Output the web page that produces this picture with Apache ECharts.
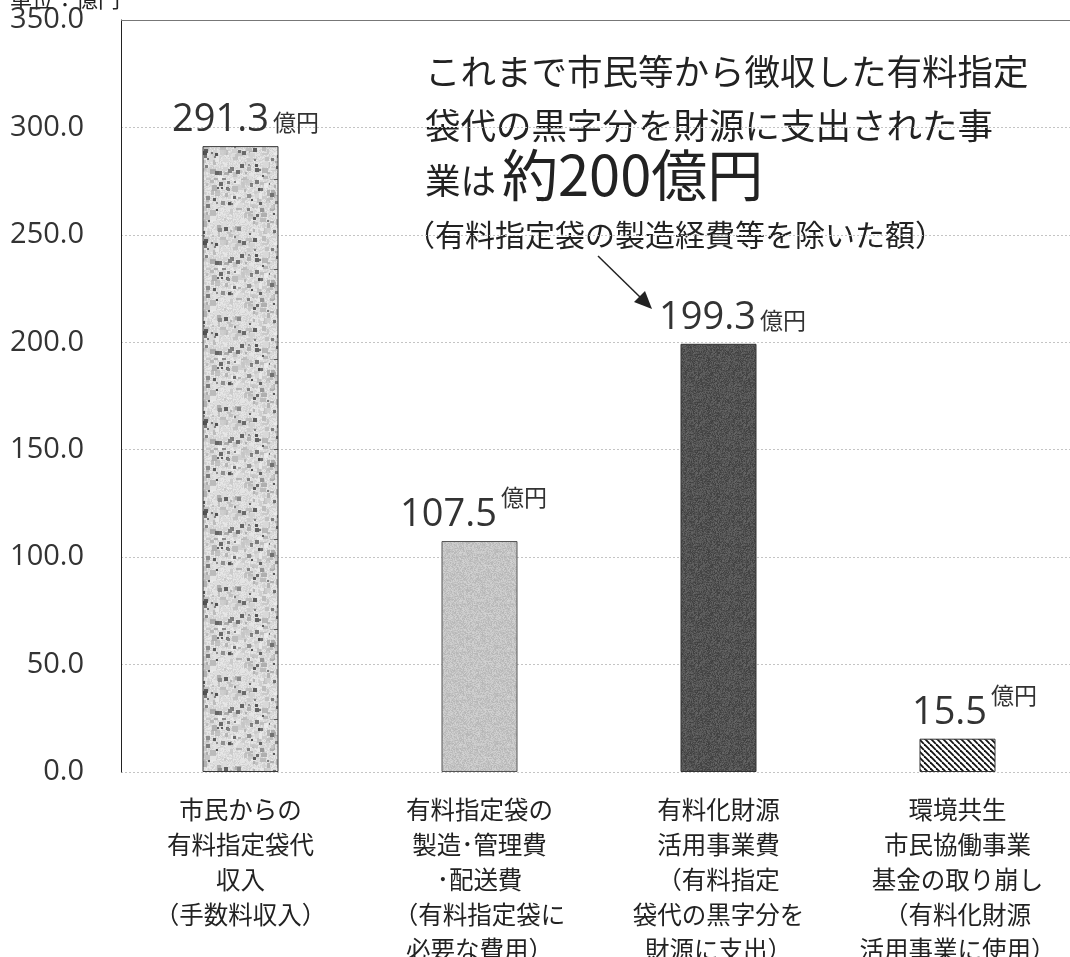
<!DOCTYPE html>
<html>
<head>
<meta charset="utf-8">
<script src="https://cdn.jsdelivr.net/npm/echarts@6/dist/echarts.min.js"></script>
<style>
  html, body { margin: 0; padding: 0; background: #fff; overflow: hidden; }
  #chart { width: 1070px; height: 957px; }
</style>
</head>
<body>
<div id="chart"></div>
<script>
// 有料指定袋代の収支（単位：億円）
const categories = [
  '市民からの\n有料指定袋代\n収入\n（手数料収入）',
  '有料指定袋の\n製造･管理費\n･配送費\n（有料指定袋に\n必要な費用）',
  '有料化財源\n活用事業費\n（有料指定\n袋代の黒字分を\n財源に支出）',
  '環境共生\n市民協働事業\n基金の取り崩し\n（有料化財源\n活用事業に使用）'
];
const values = [291.3, 107.5, 199.3, 15.5];
const unitText = '単位：億円';
const yTicks = { min: 0, max: 350, interval: 50 };
const noteLines = [
  'これまで市民等から徴収した有料指定',
  '袋代の黒字分を財源に支出された事'
];
const noteLead = '業は';
const noteAmount = '約200億円';
const noteSub = '（有料指定袋の製造経費等を除いた額）';

const FONT = '"Noto Sans CJK JP", "Noto Sans", sans-serif';
const NUM_FONT = '"Open Sans", "Noto Sans", sans-serif';

// small deterministic hash used for the bar fill textures
function hash(i, j, s) {
  const x = Math.sin(i * 12.9898 + j * 78.233 + s * 37.719) * 43758.5453;
  return x - Math.floor(x);
}

// mottled grey texture (granite-like): soft blotches with dark specks
function mottledTexture() {
  const n = 90;
  const c = document.createElement('canvas');
  c.width = n; c.height = n;
  const g = c.getContext('2d');
  for (let i = 0; i < n; i++) {
    for (let j = 0; j < n; j++) {
      const v = 205 + Math.floor(hash(i, j, 9) * 30);
      g.fillStyle = `rgb(${v},${v},${v})`;
      g.fillRect(i, j, 1, 1);
    }
  }
  for (let k = 0; k < 260; k++) {
    const x = Math.floor(hash(k, 1, 5) * n);
    const y = Math.floor(hash(k, 2, 5) * n);
    const w = 2 + Math.floor(hash(k, 3, 5) * 5);
    const h = 2 + Math.floor(hash(k, 9, 5) * 5);
    const v = 165 + Math.floor(hash(k, 4, 5) * 75);
    g.fillStyle = `rgba(${v},${v},${v},0.85)`;
    g.fillRect(x, y, w, h);
  }
  for (let k = 0; k < 80; k++) {
    const x = Math.floor(hash(k, 5, 7) * n);
    const y = Math.floor(hash(k, 6, 7) * n);
    const s = 2 + Math.floor(hash(k, 7, 7) * 3);
    const v = 80 + Math.floor(hash(k, 8, 7) * 70);
    g.fillStyle = `rgb(${v},${v},${v})`;
    g.fillRect(x, y, s, s);
  }
  return c;
}

// fine grain noise around a base grey
function grainTexture(base, spread) {
  const c = document.createElement('canvas');
  c.width = 48; c.height = 48;
  const g = c.getContext('2d');
  for (let i = 0; i < 48; i++) {
    for (let j = 0; j < 48; j++) {
      const v = Math.round(base + (hash(i, j, base) - 0.5) * spread);
      g.fillStyle = `rgb(${v},${v},${v})`;
      g.fillRect(i, j, 1, 1);
    }
  }
  return c;
}

// diagonal hatching running top-left to bottom-right
function hatchTexture() {
  const c = document.createElement('canvas');
  c.width = 6; c.height = 6;
  const g = c.getContext('2d');
  g.fillStyle = '#fff';
  g.fillRect(0, 0, 6, 6);
  g.strokeStyle = '#111';
  g.lineWidth = 1.8;
  for (let k = -6; k <= 12; k += 6) {
    g.beginPath();
    g.moveTo(k, 0);
    g.lineTo(k + 6, 6);
    g.stroke();
  }
  return c;
}

const fills = [
  { image: mottledTexture(), repeat: 'repeat' },
  { image: grainTexture(196, 30), repeat: 'repeat' },
  { image: grainTexture(82, 40), repeat: 'repeat' },
  { image: hatchTexture(), repeat: 'repeat' }
];
const borders = ['#3a3a3a', '#555', '#333', '#333'];
// unit placement: raised (superscript style) or on the baseline
const unitRaised = [false, true, false, true];
const labelShift = [5, -6, 14, 17];

const chart = echarts.init(document.getElementById('chart'));

const seriesData = values.map((v, i) => ({
  value: v,
  itemStyle: { color: fills[i], borderColor: borders[i], borderWidth: 1 },
  label: {
    offset: [labelShift[i], 0],
    formatter: '{v|' + v.toFixed(1) + '}' + (unitRaised[i] ? '{s|}{r|億円}' : '{g| }{b|億円}')
  }
}));

chart.setOption({
  animation: false,
  backgroundColor: '#fff',
  textStyle: { fontFamily: FONT },
  grid: {
    left: 121, right: -7, top: 20, bottom: 185,
    containLabel: false,
    outerBoundsMode: 'none'
  },
  xAxis: {
    type: 'category',
    data: categories,
    axisLine: { show: false },
    axisTick: { show: false },
    axisLabel: {
      interval: 0,
      margin: 20,
      fontSize: 24.5,
      lineHeight: 35,
      color: '#222',
      fontFamily: FONT
    }
  },
  yAxis: {
    type: 'value',
    min: yTicks.min,
    max: yTicks.max,
    interval: yTicks.interval,
    axisLine: { show: true, lineStyle: { color: '#222', width: 1 } },
    axisTick: { show: false },
    splitLine: { lineStyle: { color: '#c4c4c4', type: [2, 2], width: 1 } },
    axisLabel: {
      margin: 37,
      fontSize: 29,
      color: '#333',
      fontFamily: NUM_FONT,
      formatter: v => v.toFixed(1)
    }
  },
  series: [{
    type: 'bar',
    data: seriesData,
    barWidth: 76,
    label: {
      show: true,
      position: 'top',
      distance: 7,
      color: '#333',
      rich: {
        v: { fontSize: 38, fontFamily: NUM_FONT, color: '#333', lineHeight: 48, verticalAlign: 'bottom' },
        g: { fontSize: 18, lineHeight: 48, verticalAlign: 'bottom' },
        s: { width: 4 },
        b: { fontSize: 23, fontFamily: FONT, color: '#333', lineHeight: 48, verticalAlign: 'bottom', padding: [0, 0, 5, 0] },
        r: { fontSize: 23, fontFamily: FONT, color: '#333', lineHeight: 48, verticalAlign: 'top', padding: [0, 0, 16, 0] }
      }
    },
    markLine: {
      silent: true,
      symbol: 'none',
      label: { show: false },
      lineStyle: { color: '#777', type: 'solid', width: 1 },
      data: [{ yAxis: yTicks.max }]
    }
  }],
  graphic: [
    {
      type: 'text', left: 10, top: -12,
      style: { text: unitText, font: '22px ' + FONT, fill: '#222' }
    },
    {
      type: 'text', left: 425, top: 54,
      style: { text: noteLines[0], font: '35.5px ' + FONT, fill: '#222' }
    },
    {
      type: 'text', left: 425, top: 108,
      style: { text: noteLines[1], font: '35.5px ' + FONT, fill: '#222' }
    },
    {
      type: 'text', left: 425, top: 163,
      style: { text: noteLead, font: '35.5px ' + FONT, fill: '#222' }
    },
    {
      type: 'text', left: 502, top: 147,
      style: { text: noteAmount, font: '56px ' + FONT, fill: '#222' }
    },
    {
      type: 'text', left: 405, top: 220,
      style: { text: noteSub, font: '30px ' + FONT, fill: '#222' }
    },
    {
      type: 'line',
      shape: { x1: 598, y1: 256, x2: 641, y2: 298 },
      style: { stroke: '#222', lineWidth: 1.5 }
    },
    {
      type: 'polygon',
      shape: { points: [[652, 309], [634, 302], [645, 291]] },
      style: { fill: '#222' }
    }
  ]
});
</script>
</body>
</html>
